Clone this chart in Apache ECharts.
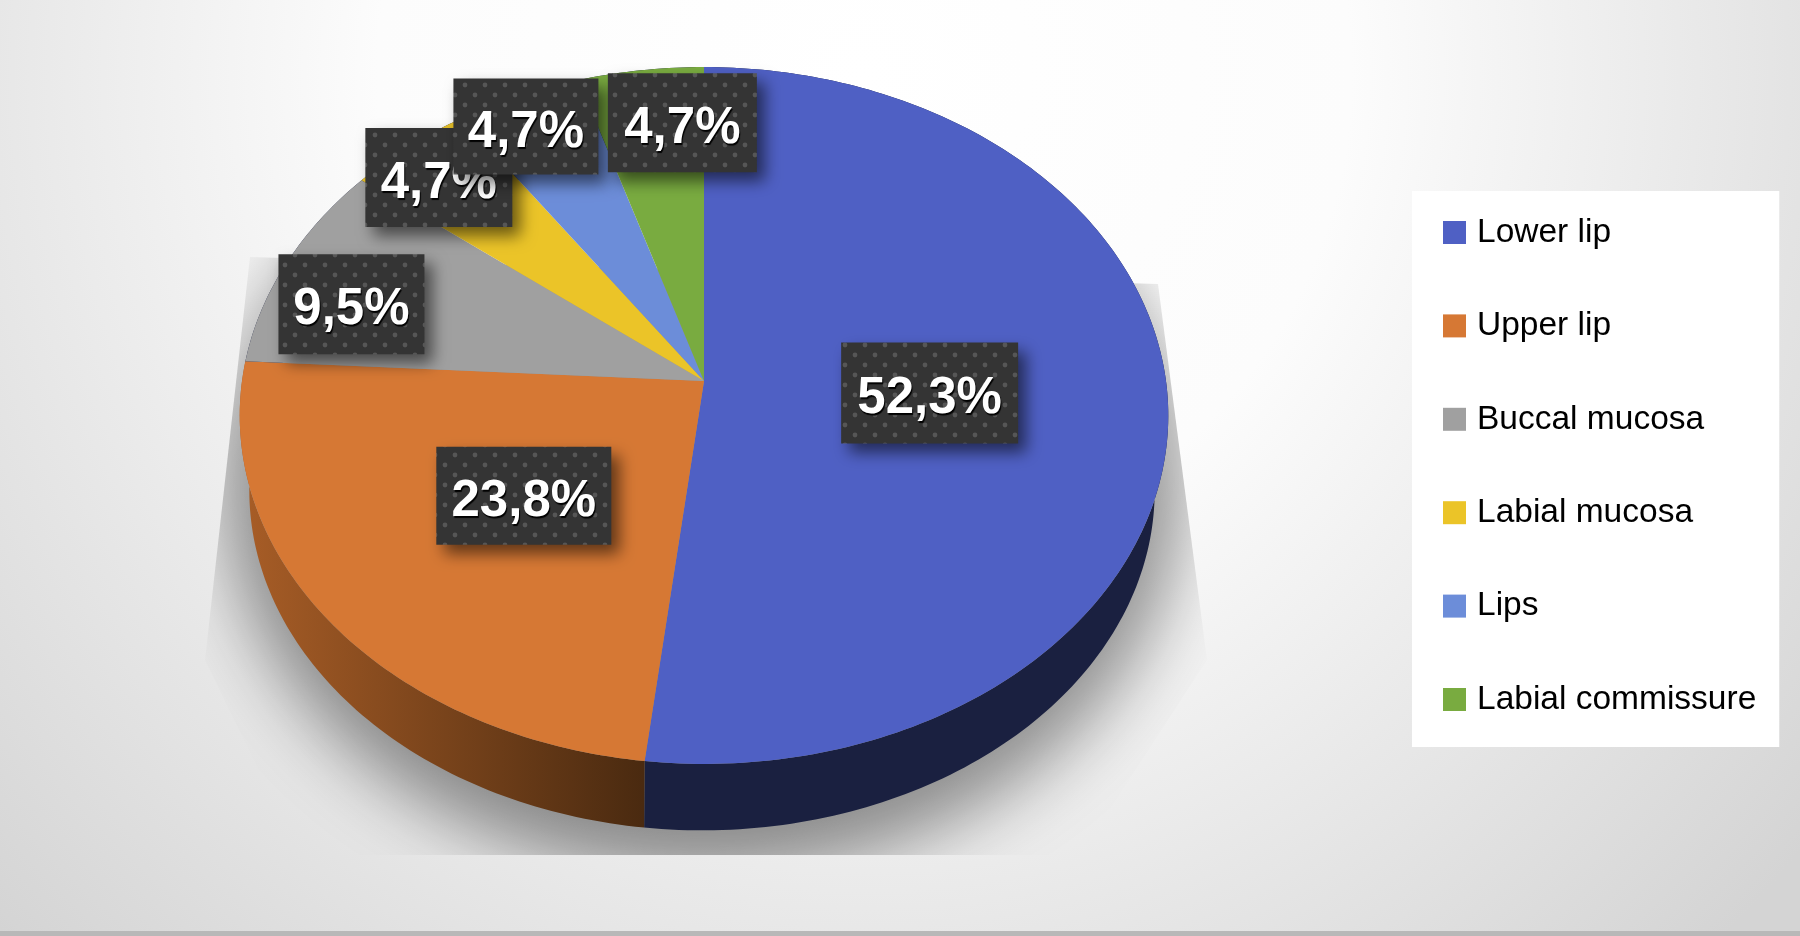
<!DOCTYPE html>
<html>
<head>
<meta charset="utf-8">
<title>Tumor location</title>
<style>
    html, body { margin: 0; padding: 0; background: #fff; }
    #chart { width: 1800px; height: 936px; }
</style>
<script src="https://cdn.jsdelivr.net/npm/echarts@6/dist/echarts.min.js"></script>
</head>
<body>
<div id="chart"></div>
<script>
    const categories = ['Lower lip', 'Upper lip', 'Buccal mucosa', 'Labial mucosa', 'Lips', 'Labial commissure'];
    const shares = [52.3, 23.8, 9.5, 4.7, 4.7, 4.7];

    const sliceColors = ['#4f60c4', '#d67834', '#a0a0a0', '#ebc428', '#6c8dd9', '#79ab40'];
    // px offset of each label box from its slice's mid point
    const labelNudges = [[-52, -4], [46, -18], [-101, -1], [-86, -57], [-65, -77], [17, -65]];
    const labelSizes = [[177, 101], [175, 98], [146, 100], [147, 99], [145, 96], [149, 99]];

    // the pie is photographed at a tilt, so the apex sits above the middle of the ellipse
    const APEX = [704, 381], SCALE_X = 462, SCALE_Y = 345, PERSPECTIVE = -0.099;
    const BASE_APEX = [702, 457], BASE_SCALE = 0.975;
    const LEAN = 2.2 * Math.PI / 180;
    const total = shares.reduce((a, b) => a + b, 0);

    function project(angle, radius, apex = APEX, scale = 1) {
        const x = radius * Math.sin(angle), y = -radius * Math.cos(angle);
        const w = 1 + PERSPECTIVE * y;
        return [apex[0] + scale * SCALE_X * x / w, apex[1] + scale * SCALE_Y * y / w];
    }

    // slice borders in the picture lean a little towards the start of the circle
    function leaned(angle) {
        return angle - LEAN * Math.sin(angle / 2);
    }

    function arcPoints(from, to, apex, scale) {
        const steps = Math.max(2, Math.ceil((to - from) / (Math.PI / 180)));
        const points = [];
        for (let i = 0; i <= steps; i++)
            points.push(project(from + (to - from) * i / steps, 1, apex, scale));
        return points;
    }

    function makeDots() {
        const canvas = document.createElement('canvas');
        canvas.width = canvas.height = 20;
        const ctx = canvas.getContext('2d');
        ctx.fillStyle = '#343434';
        ctx.fillRect(0, 0, 20, 20);
        ctx.fillStyle = '#565656';
        [[5, 5], [15, 15]].forEach(p => {
            ctx.beginPath();
            ctx.arc(p[0], p[1], 2.4, 0, Math.PI * 2);
            ctx.fill();
        });
        return canvas;
    }
    const dots = makeDots();

    function sideFill(index) {
        if (index === 1)
            return {
                type: 'linear', global: true, x: 250, y: 0, x2: 643, y2: 0,
                colorStops: [{offset: 0, color: '#a65c26'}, {offset: 1, color: '#4a2a10'}]
            };
        return '#1a2040';
    }

    function renderSlice(index) {
        return (params, api) => {
            const before = shares.slice(0, index).reduce((a, b) => a + b, 0);
            const rawFrom = before / total * Math.PI * 2;
            const rawTo = (before + api.value(0)) / total * Math.PI * 2;
            const from = leaned(rawFrom), to = leaned(rawTo);
            const mid = project((rawFrom + rawTo) / 2, 0.6);
            const size = labelSizes[index];
            const cx = mid[0] + labelNudges[index][0], cy = mid[1] + labelNudges[index][1];
            const top = arcPoints(from, to);
            const base = arcPoints(from, to, BASE_APEX, BASE_SCALE).reverse();
            return {
                type: 'group',
                children: [{
                    type: 'polygon', z2: 0, silent: true,
                    shape: {points: top.concat(base)},
                    style: {fill: sideFill(index)}
                }, {
                    type: 'polygon', z2: 1,
                    shape: {points: [APEX].concat(top)},
                    style: {fill: sliceColors[index]}
                }, {
                    type: 'rect', z2: 10 + index * 2,
                    shape: {x: cx - size[0] / 2, y: cy - size[1] / 2, width: size[0], height: size[1]},
                    style: {
                        fill: {image: dots, repeat: 'repeat'},
                        shadowColor: 'rgba(0,0,0,0.55)', shadowBlur: 16, shadowOffsetX: 8, shadowOffsetY: 9
                    }
                }, {
                    type: 'text', z2: 11 + index * 2,
                    style: {
                        x: cx, y: cy + 6, align: 'center', verticalAlign: 'middle',
                        text: api.value(0).toFixed(1).replace('.', ',') + '%',
                        fill: '#ffffff', font: 'bold 51px "Liberation Sans", Arial, sans-serif',
                        textShadowColor: '#000000', textShadowOffsetX: 1, textShadowOffsetY: 2, textShadowBlur: 1
                    }
                }]
            };
        };
    }

    // blurred floor shadow, cut to the hard-edged trapezoid seen in the picture
    function renderShadow() {
        const off = 3000;
        return {
            type: 'ellipse',
            shape: {cx: 704 - off, cy: 480, rx: 480, ry: 395},
            style: {
                fill: '#000', shadowColor: 'rgba(0,0,0,0.42)', shadowBlur: 70, shadowOffsetX: off
            },
            clipPath: {
                type: 'polygon',
                shape: {points: [[250, 257], [205, 660], [300, 855], [1080, 855], [1207, 660], [1158, 284]]}
            }
        };
    }

    const echart = echarts.init(document.getElementById('chart'));
    echart.setOption({
        animation: false,
        backgroundColor: {
            type: 'radial', x: 0.48, y: 0.08, r: 1.3,
            colorStops: [
                {offset: 0, color: '#ffffff'},
                {offset: 0.4, color: '#fcfcfc'},
                {offset: 0.7, color: '#e8e8e8'},
                {offset: 1, color: '#d4d4d4'}
            ]
        },
        graphic: [{
            type: 'rect', left: 0, top: 931, z: 0,
            shape: {width: 1800, height: 5},
            style: {fill: '#b8b8b8'}
        }],
        legend: {
            data: categories,
            orient: 'vertical',
            left: 1412,
            top: 191,
            padding: [24.5, 23, 30.5, 31],
            backgroundColor: '#ffffff',
            icon: 'rect',
            itemWidth: 23,
            itemHeight: 23,
            itemGap: 59.4,
            selectedMode: false,
            textStyle: {
                color: '#000000',
                fontFamily: '"Liberation Sans", Arial, sans-serif',
                fontSize: 33.5,
                padding: [0, 0, 0, 6]
            }
        },
        series: [{
            type: 'custom',
            name: 'shadow',
            coordinateSystem: 'none',
            silent: true,
            z: 1,
            data: [[0]],
            renderItem: renderShadow
        }].concat(categories.map((name, index) => ({
            type: 'custom',
            name: name,
            coordinateSystem: 'none',
            z: 2,
            itemStyle: {color: sliceColors[index]},
            data: [[shares[index]]],
            renderItem: renderSlice(index)
        })))
    });
</script>
</body>
</html>
